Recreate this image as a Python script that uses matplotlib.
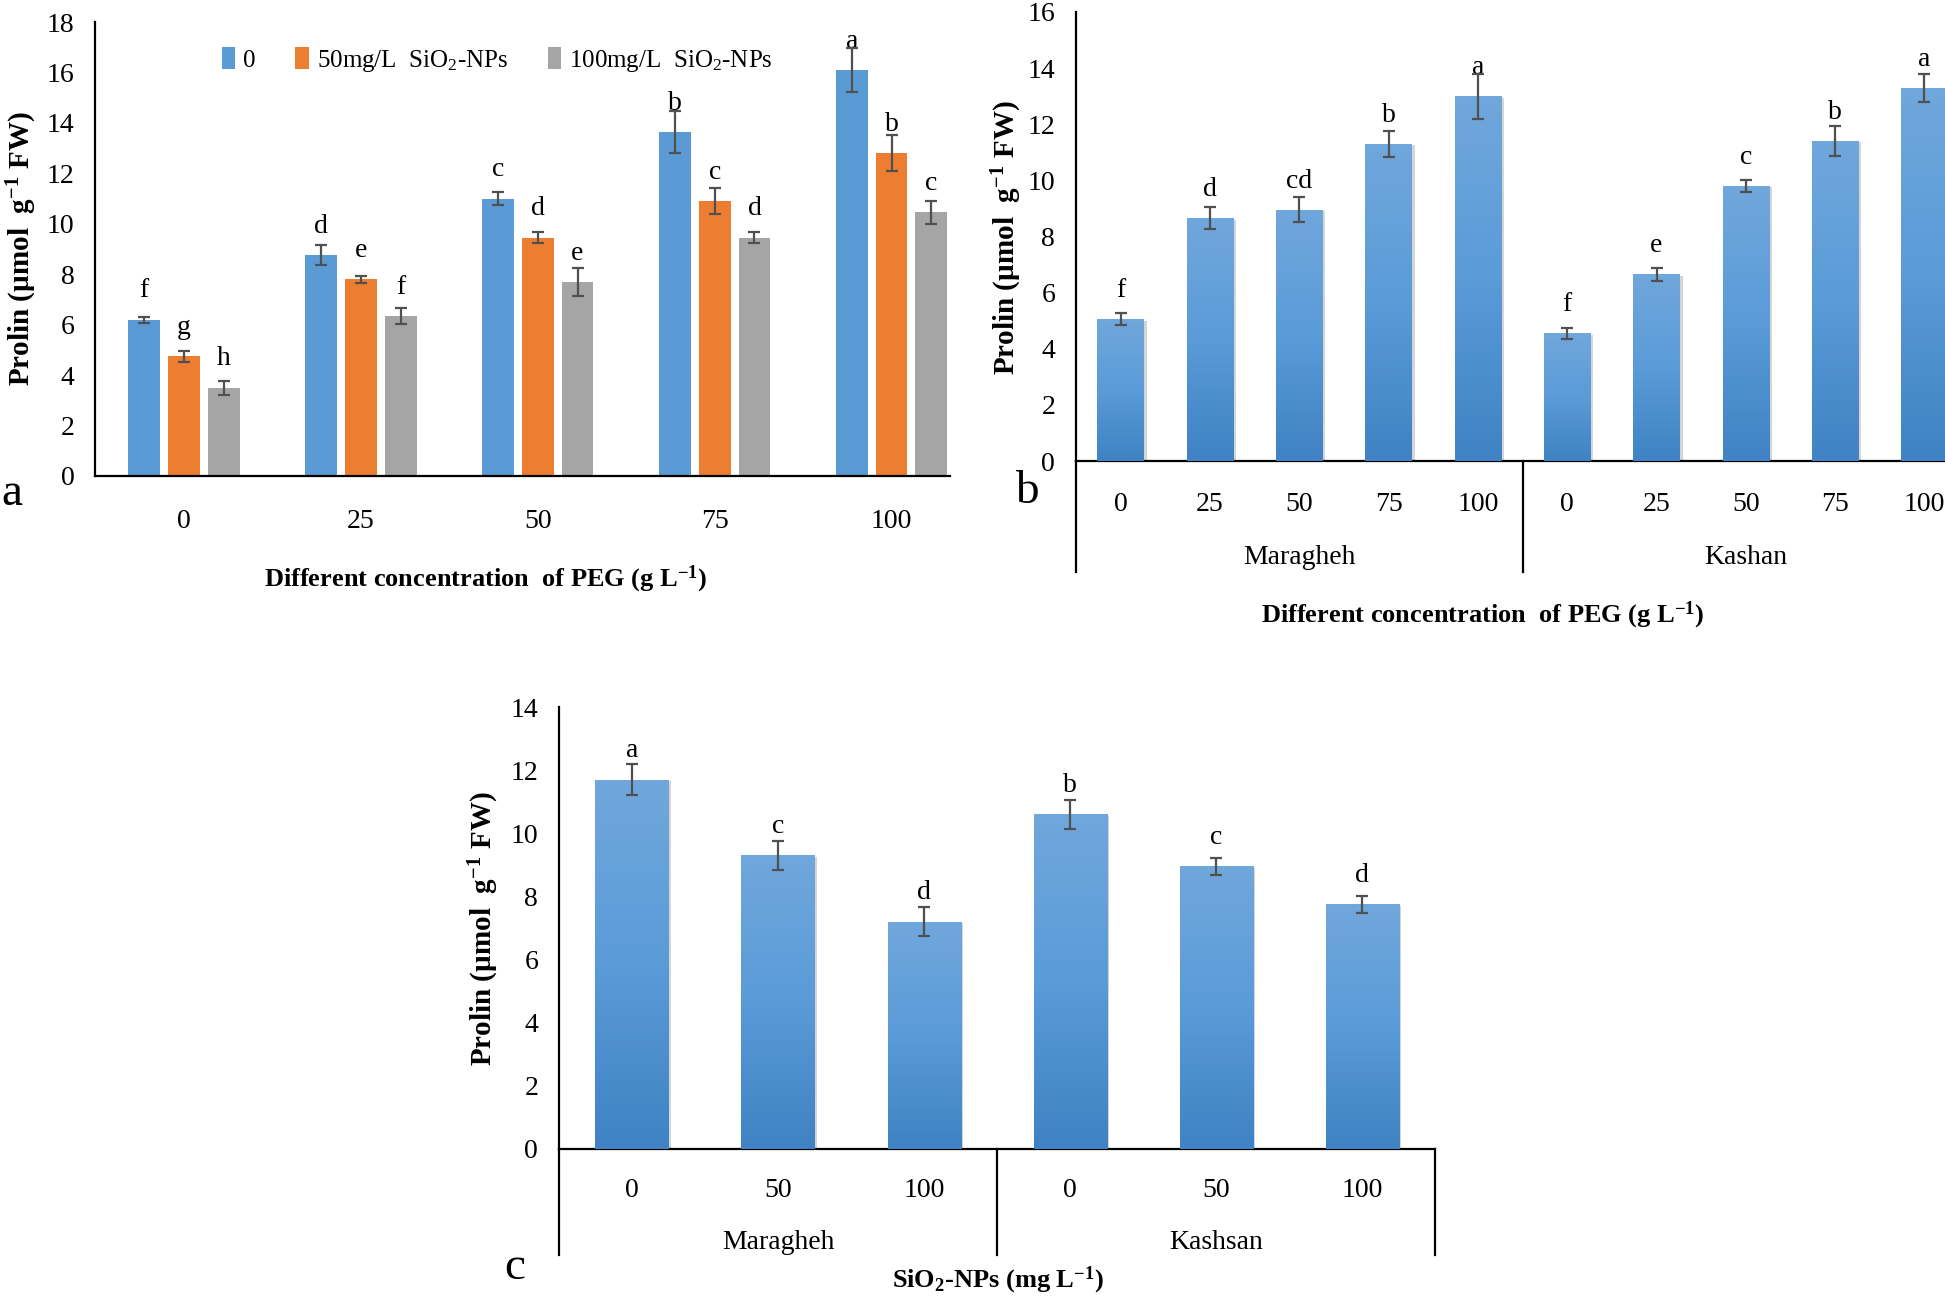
import numpy as np
import matplotlib
matplotlib.use("Agg")
import matplotlib.pyplot as plt
import matplotlib.transforms as mtransforms
import matplotlib.patheffects as pe
from matplotlib.colors import LinearSegmentedColormap

plt.rcParams['font.family'] = ['Liberation Serif', 'DejaVu Serif']
plt.rcParams['mathtext.fontset'] = 'custom'
plt.rcParams['mathtext.rm'] = 'Liberation Serif'
plt.rcParams['mathtext.it'] = 'Liberation Serif:italic'
plt.rcParams['mathtext.bf'] = 'Liberation Serif:bold'

# ---- data ----
peg = ['0', '25', '50', '75', '100']
series_names = ['0', r'50mg/L  SiO$_\mathrm{2}$-NPs', r'100mg/L  SiO$_\mathrm{2}$-NPs']
a_ctrl = [6.2, 8.75, 11.0, 13.65, 16.1]
a_ctrl_err = [0.12, 0.4, 0.26, 0.84, 0.87]
a_ctrl_let = ['f', 'd', 'c', 'b', 'a']
a_50 = [4.75, 7.8, 9.45, 10.9, 12.8]
a_50_err = [0.22, 0.14, 0.22, 0.5, 0.72]
a_50_let = ['g', 'e', 'd', 'c', 'b']
a_100 = [3.5, 6.35, 7.7, 9.45, 10.45]
a_100_err = [0.28, 0.33, 0.55, 0.22, 0.47]
a_100_let = ['h', 'f', 'e', 'd', 'c']

b_groups = ['Maragheh', 'Kashan']
b_vals = [5.05, 8.65, 8.95, 11.3, 13.0, 4.55, 6.65, 9.8, 11.4, 13.3]
b_err = [0.22, 0.39, 0.44, 0.47, 0.8, 0.19, 0.23, 0.23, 0.55, 0.5]
b_let = ['f', 'd', 'cd', 'b', 'a', 'f', 'e', 'c', 'b', 'a']

sio2 = ['0', '50', '100']
c_groups = ['Maragheh', 'Kashsan']
c_vals = [11.7, 9.3, 7.2, 10.6, 8.95, 7.75]
c_err = [0.5, 0.45, 0.45, 0.45, 0.28, 0.27]
c_let = ['a', 'c', 'd', 'b', 'c', 'd']

colors = ['#5B9BD5', '#ED7D31', '#A5A5A5']
grad = LinearSegmentedColormap.from_list('g', ['#3F83C4', '#5A9BD8', '#70A7DC'])
errc = '#505050'
TICK_FS = 20
LET_FS = 20
ylab = r'Prolin (µmol  g$^{\mathbf{-1}}$ FW)'

fig = plt.figure(figsize=(19.45, 12.98), dpi=100)


def style(ax, ymax, step, xpad):
    for s in ['top', 'right']:
        ax.spines[s].set_visible(False)
    for s in ['left', 'bottom']:
        ax.spines[s].set_linewidth(1.6)
        ax.spines[s].set_color('black')
    ax.set_ylim(0, ymax)
    ax.set_yticks(np.arange(0, ymax + 0.1, step))
    ax.tick_params(axis='y', length=0, pad=15, labelsize=TICK_FS)
    ax.tick_params(axis='x', length=0, pad=xpad, labelsize=TICK_FS)


def letters(ax, xs, vals, labs):
    for x, v, t in zip(xs, vals, labs):
        ax.annotate(t, (x, v), xytext=(0, 16), textcoords='offset points',
                    ha='center', va='baseline', fontsize=LET_FS)


def gradient_bars(ax, xs, vals, errs, width):
    bars = ax.bar(xs, vals, width, color='#5A9BD8', zorder=2,
                  yerr=errs, capsize=4.5,
                  error_kw=dict(ecolor=errc, elinewidth=1.6, capthick=1.6, zorder=5))
    img = np.linspace(0, 1, 100).reshape(-1, 1)
    for p in bars.patches:
        p.set_path_effects([pe.SimplePatchShadow(offset=(2, -1), shadow_rgbFace='#888888', alpha=0.35),
                            pe.Normal()])
        x0, y0 = p.get_x(), p.get_y()
        im = ax.imshow(img, extent=[x0, x0 + p.get_width(), y0, y0 + p.get_height()],
                       origin='lower', cmap=grad, aspect='auto', zorder=3,
                       interpolation='bilinear')
        im.set_clip_path(p)
    return bars


def group_axis(ax, seps, centers, names, ylow, ytext):
    trans = mtransforms.blended_transform_factory(ax.transData, ax.transAxes)
    for s in seps:
        ax.plot([s, s], [0, ylow], color='black', lw=1.6, transform=trans, clip_on=False)
    for c, n in zip(centers, names):
        ax.text(c, ytext, n, transform=trans, ha='center', va='center', fontsize=TICK_FS)


# ---- panel a ----
axa = fig.add_axes([0.0491, 0.6333, 0.4393, 0.3497])
x = np.arange(len(peg))
w = 0.18
off = 0.225
for i, (vals, errs, labs) in enumerate([(a_ctrl, a_ctrl_err, a_ctrl_let),
                                        (a_50, a_50_err, a_50_let),
                                        (a_100, a_100_err, a_100_let)]):
    xs = x + (i - 1) * off
    axa.bar(xs, vals, w, color=colors[i], label=series_names[i], zorder=2,
            yerr=errs, capsize=4.5,
            error_kw=dict(ecolor=errc, elinewidth=1.6, capthick=1.6, zorder=5))
    letters(axa, xs, vals, labs)
style(axa, 18, 2, 24)
axa.set_xlim(-0.5, 4.33)
axa.set_xticks(x)
axa.set_xticklabels(peg)
axa.legend(loc='upper center', bbox_to_anchor=(0.47, 0.995), ncol=3, frameon=False,
           fontsize=18, handlelength=0.55, handleheight=1.0, handletextpad=0.3,
           columnspacing=1.6)
fig.text(22 / 1945, 1 - 249 / 1298, ylab, rotation=90, ha='center', va='center',
         fontsize=21, fontweight='bold')
fig.text(486 / 1945, 1 - 579 / 1298, r'Different concentration  of PEG (g L$^{\mathbf{-1}}$)',
         ha='center', va='center', fontsize=19, fontweight='bold')
fig.text(12 / 1945, 1 - 494 / 1298, 'a', ha='center', va='center', fontsize=34)

# ---- panel b ----
axb = fig.add_axes([0.5532, 0.6448, 0.4468, 0.3460])
xb = np.arange(len(b_vals))
gradient_bars(axb, xb, b_vals, b_err, 0.52)
letters(axb, xb, b_vals, b_let)
style(axb, 16, 2, 22)
axb.set_xlim(-0.5, 9.23)
axb.set_xticks(xb)
axb.set_xticklabels(peg * 2)
group_axis(axb, [-0.5, 4.5], [2, 7], b_groups, -0.247, -0.214)
fig.text(1007 / 1945, 1 - 238 / 1298, ylab, rotation=90, ha='center', va='center',
         fontsize=21, fontweight='bold')
fig.text(1483 / 1945, 1 - 615 / 1298, r'Different concentration  of PEG (g L$^{\mathbf{-1}}$)',
         ha='center', va='center', fontsize=19, fontweight='bold')
fig.text(1027 / 1945, 1 - 492 / 1298, 'b', ha='center', va='center', fontsize=34)

# ---- panel c ----
axc = fig.add_axes([0.2874, 0.1148, 0.4504, 0.3405])
xc = np.arange(len(c_vals))
gradient_bars(axc, xc, c_vals, c_err, 0.5)
letters(axc, xc, c_vals, c_let)
style(axc, 14, 2, 21)
axc.set_xlim(-0.5, 5.5)
axc.set_xticks(xc)
axc.set_xticklabels(sio2 * 2)
group_axis(axc, [-0.5, 2.5, 5.5], [1, 4], c_groups, -0.24, -0.211)
fig.text(484 / 1945, 1 - 929 / 1298, ylab, rotation=90, ha='center', va='center',
         fontsize=21, fontweight='bold')
fig.text(998 / 1945, 1 - 1280 / 1298, r'SiO$_{\mathbf{2}}$-NPs (mg L$^{\mathbf{-1}}$)',
         ha='center', va='center', fontsize=19, fontweight='bold')
fig.text(515 / 1945, 1 - 1268 / 1298, 'c', ha='center', va='center', fontsize=34)

fig.savefig('out.png', dpi=100)
